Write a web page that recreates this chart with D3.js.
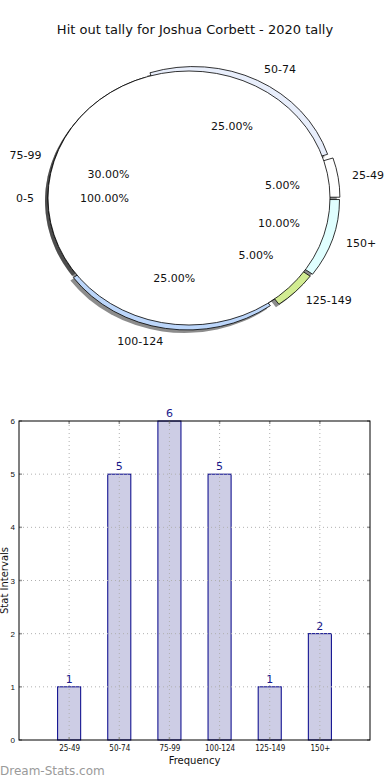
<!DOCTYPE html>
<meta charset="utf-8">
<style>
body { margin: 0; background: #fff; }
svg { font-family: "DejaVu Sans", sans-serif; }
.grid line { stroke: #b0b0b0; stroke-dasharray: 1,3; }
</style>
<svg width="390" height="780"></svg>
<script src="https://d3js.org/d3.v7.min.js"></script>
<script>
// data
var title = "Hit out tally for Joshua Corbett - 2020 tally";
var categories = ["25-49", "50-74", "75-99", "100-124", "125-149", "150+"];
var counts = [1, 5, 6, 5, 1, 2];
var sliceColors = ["#ffffff", "#e8eefb", "#ffffff", "#bcd6fa", "#d2ec92", "#e0ffff"];
var exploded = [1, 1, 0, 1, 1, 1];
var yTicks = [0, 1, 2, 3, 4, 5, 6];

var svg = d3.select("svg");

svg.append("text")
  .attr("x", 195).attr("y", 34)
  .attr("text-anchor", "middle")
  .style("font-size", "13px")
  .attr("fill", "#111")
  .text(title);

// ---- pie (elliptical, like the stretched matplotlib axes)
var cx = 189, cy = 198, sx = 141, sy = 127;
var exX = 10, exY = 5; // explode offsets in px

var total = d3.sum(counts);
var pie = d3.pie().sort(null)
  .startAngle(Math.PI / 2)
  .endAngle(Math.PI / 2 - 2 * Math.PI);
var arcs = pie(counts);
var arc = d3.arc().innerRadius(0).outerRadius(1);

function mid(d) { return (d.startAngle + d.endAngle) / 2; }
function offset(d, i) {
  if (!exploded[i]) return [0, 0];
  var a = mid(d);
  return [exX * Math.sin(a), -exY * Math.cos(a)];
}

var gp = svg.append("g");

// shadows first
arcs.forEach(function(d, i) {
  var o = offset(d, i);
  gp.append("path")
    .attr("d", arc(d))
    .attr("transform", "translate(" + (cx + o[0] - 3) + "," + (cy + o[1] + 3) + ") scale(" + sx + "," + sy + ")")
    .attr("fill", "#000").attr("fill-opacity", 0.45);
});
// the 0-5 full circle shadow
gp.append("ellipse")
  .attr("cx", cx - 3).attr("cy", cy + 3).attr("rx", sx).attr("ry", sy)
  .attr("fill", "#000").attr("fill-opacity", 0.45);

arcs.forEach(function(d, i) {
  var o = offset(d, i);
  gp.append("path")
    .attr("d", arc(d))
    .attr("transform", "translate(" + (cx + o[0]) + "," + (cy + o[1]) + ") scale(" + sx + "," + sy + ")")
    .attr("fill", sliceColors[i])
    .attr("stroke", "#000").attr("stroke-width", 0.8)
    .attr("vector-effect", "non-scaling-stroke");
});

// 0-5 at 100%, drawn on top
gp.append("ellipse")
  .attr("cx", cx).attr("cy", cy).attr("rx", sx).attr("ry", sy)
  .attr("fill", "#fff").attr("stroke", "#000").attr("stroke-width", 0.8);

function pieLabel(a, o, dist, txt, anchorBySide) {
  var ux = Math.sin(a), uy = -Math.cos(a);
  var x = cx + o[0] + dist * sx * ux, y = cy + o[1] + dist * sy * uy;
  gp.append("text")
    .attr("x", x).attr("y", y).attr("dy", "0.35em")
    .attr("text-anchor", anchorBySide ? (ux > 0.001 ? "start" : "end") : "middle")
    .style("font-size", "11px").attr("fill", "#111")
    .text(txt);
}

arcs.forEach(function(d, i) {
  var o = offset(d, i);
  pieLabel(mid(d), o, 1.1, categories[i], true);
  pieLabel(mid(d), o, 0.6, (100 * counts[i] / total).toFixed(2) + "%", false);
});
pieLabel(-Math.PI / 2, [0, 0], 1.1, "0-5", true);
pieLabel(-Math.PI / 2, [0, 0], 0.6, "100.00%", false);

// ---- bar chart
var bLeft = 19, bRight = 370, bTop = 421, bBottom = 740;
var x = d3.scaleLinear().domain([0, 7]).range([bLeft, bRight]);
var y = d3.scaleLinear().domain([0, 6]).range([bBottom, bTop]);
var bw = x(0.46) - x(0);

var gb = svg.append("g");

gb.selectAll(".bar").data(counts).enter().append("rect")
  .attr("class", "bar")
  .attr("x", function(d, i) { return x(i + 1) - bw / 2; })
  .attr("y", function(d) { return y(d); })
  .attr("width", bw)
  .attr("height", function(d) { return y(0) - y(d); })
  .attr("fill", "#cdcde5")
  .attr("stroke", "#000088").attr("stroke-width", 1);

// grid over bars
var grid = gb.append("g").attr("class", "grid");
grid.selectAll(".gx").data(categories).enter().append("line")
  .attr("x1", function(d, i) { return x(i + 1); })
  .attr("x2", function(d, i) { return x(i + 1); })
  .attr("y1", bTop).attr("y2", bBottom);
grid.selectAll(".gy").data(yTicks.slice(1, -1)).enter().append("line")
  .attr("x1", bLeft).attr("x2", bRight)
  .attr("y1", function(d) { return y(d); })
  .attr("y2", function(d) { return y(d); });

// inner ticks
var tk = gb.append("g").attr("stroke", "#999").attr("stroke-width", 1.5);
categories.forEach(function(c, i) {
  tk.append("line").attr("x1", x(i + 1)).attr("x2", x(i + 1)).attr("y1", bBottom).attr("y2", bBottom - 3);
  tk.append("line").attr("x1", x(i + 1)).attr("x2", x(i + 1)).attr("y1", bTop).attr("y2", bTop + 3);
});
yTicks.forEach(function(t) {
  tk.append("line").attr("x1", bLeft).attr("x2", bLeft + 3).attr("y1", y(t)).attr("y2", y(t));
  tk.append("line").attr("x1", bRight).attr("x2", bRight - 3).attr("y1", y(t)).attr("y2", y(t));
});

gb.append("rect")
  .attr("x", bLeft).attr("y", bTop)
  .attr("width", bRight - bLeft).attr("height", bBottom - bTop)
  .attr("fill", "none").attr("stroke", "#000").attr("stroke-width", 1);

// axes labels
var xAxis = d3.axisBottom(x).tickValues(d3.range(1, 7))
  .tickFormat(function(d) { return categories[d - 1]; })
  .tickSize(0).tickPadding(5);
gb.append("g").attr("transform", "translate(0," + bBottom + ")").call(xAxis)
  .call(function(g) { g.select(".domain").remove(); })
  .selectAll("text").style("font-size", "8px").attr("fill", "#111")
  .style("font-family", "DejaVu Sans Condensed, DejaVu Sans");

var yAxis = d3.axisLeft(y).tickValues(yTicks).tickFormat(d3.format("d"))
  .tickSize(0).tickPadding(4);
gb.append("g").attr("transform", "translate(" + bLeft + ",0)").call(yAxis)
  .call(function(g) { g.select(".domain").remove(); })
  .selectAll("text").style("font-size", "8px").attr("fill", "#111");

gb.selectAll(".val").data(counts).enter().append("text")
  .attr("x", function(d, i) { return x(i + 1); })
  .attr("y", function(d) { return y(d) - 4; })
  .attr("text-anchor", "middle")
  .style("font-size", "11px").attr("fill", "#1a1a8c")
  .text(function(d) { return d; });

svg.append("text")
  .attr("x", (bLeft + bRight) / 2).attr("y", 764)
  .attr("text-anchor", "middle")
  .style("font-size", "10px").attr("fill", "#111")
  .text("Frequency");

svg.append("text")
  .attr("transform", "translate(8," + ((bTop + bBottom) / 2) + ") rotate(-90)")
  .attr("text-anchor", "middle")
  .style("font-size", "10px").attr("fill", "#111")
  .text("Stat Intervals");

svg.append("text")
  .attr("x", 0).attr("y", 775)
  .style("font-size", "12px").attr("fill", "#9a9a9a")
  .text("Dream-Stats.com");
</script>
